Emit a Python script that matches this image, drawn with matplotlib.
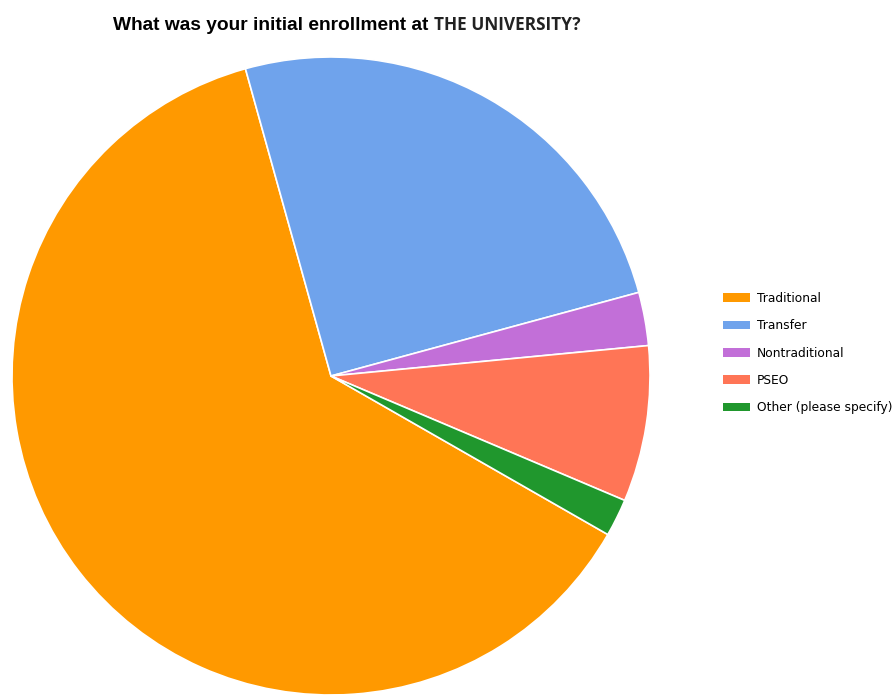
import matplotlib.pyplot as plt
from matplotlib.patches import Patch

labels = ['Traditional', 'Transfer', 'Nontraditional', 'PSEO', 'Other (please specify)']
values = [62.4, 25.1, 2.7, 7.9, 1.9]
colors = ['#FF9900', '#6FA3EC', '#C26FD8', '#FF7556', '#20972D']

fig = plt.figure(figsize=(8.93, 6.96), dpi=100)

# pie axes placed where the circle sits in the reference
ax = fig.add_axes([11 / 893, 1 / 696, 640 / 893, 638 / 696])
ax.pie(values, colors=colors, startangle=-29.8, counterclock=False,
       wedgeprops=dict(edgecolor='white', linewidth=1.2))
ax.set_xlim(-1, 1)
ax.set_ylim(-1, 1)
ax.set_aspect('equal')
ax.axis('off')

# title in two fonts, as in the original
t1 = fig.text(113 / 893, 1 - 30 / 696, 'What was your initial enrollment at ',
              fontsize=13.8, fontweight='bold', family='Liberation Sans')
fig.canvas.draw()
bb = t1.get_window_extent()
fig.text(bb.x1 / fig.bbox.width, 1 - 30 / 696, 'THE UNIVERSITY?',
         fontsize=12.4, fontweight='bold', family='Open Sans', color='#222222')

handles = [Patch(facecolor=c, edgecolor='none') for c in colors]
fig.legend(handles, labels, loc='upper left', bbox_to_anchor=(723 / 893, 1 - 292 / 696),
           frameon=False, prop={'family': 'DejaVu Sans', 'size': 8.8},
           handlelength=2.2, handleheight=0.7, handletextpad=0.55, labelspacing=1.17,
           borderpad=0, borderaxespad=0)

fig.savefig('out.png', dpi=100, facecolor='white')
